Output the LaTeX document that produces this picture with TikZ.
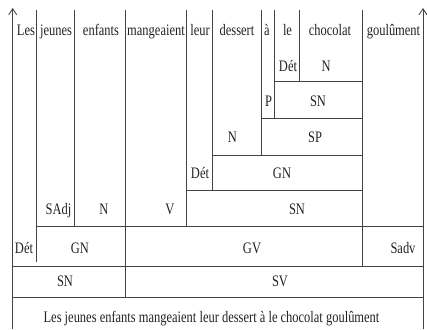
\documentclass[tikz,border=0pt]{standalone}
\usepackage{fontspec}
\setmainfont{Liberation Serif}[FakeStretch=0.78]
\usetikzlibrary{arrows.meta}
\definecolor{ink}{HTML}{222222}
\tikzset{
  lbl/.style={anchor=base, inner sep=0pt, text=ink},
  ln/.style={draw=ink!85, line width=0.85pt},
  arr/.style={ln, -{Straight Barb[length=6pt,width=8pt]}}
}
\begin{document}
\begin{tikzpicture}[x=1pt, y=-1pt, font=\fontsize{16}{18}\selectfont]
\useasboundingbox (0,0) rectangle (427,329);
% border arrows
\draw[arr] (12.7,329) -- (12.7,8);
\draw[arr] (423,329) -- (423,8);
% verticals
\draw[ln] (36.7,10) -- (36.7,262);
\draw[ln] (74,10) -- (74,226.7);
\draw[ln] (125,10) -- (125,297);
\draw[ln] (186.7,10) -- (186.7,226.7);
\draw[ln] (212,10) -- (212,190);
\draw[ln] (261.7,10) -- (261.7,155);
\draw[ln] (274.3,10) -- (274.3,118.3);
\draw[ln] (299.3,10) -- (299.3,81.7);
\draw[ln] (362.3,10) -- (362.3,266);
% horizontals
\draw[ln] (274.3,81.7) -- (362.3,81.7);
\draw[ln] (261.7,118.3) -- (362.3,118.3);
\draw[ln] (212,155) -- (362.3,155);
\draw[ln] (186.7,190) -- (362.3,190);
\draw[ln] (36.7,226.7) -- (423,226.7);
\draw[ln] (12.7,266) -- (423,266);
\draw[ln] (12.7,297) -- (423,297);
% row 1: words
\node[lbl] (w1) at (26,36) {Les};
\node[lbl] (w2) at (56,36) {jeunes};
\node[lbl] (w3) at (101,36) {enfants};
\node[lbl] (w4) at (156,36) {mangeaient};
\node[lbl] (w5) at (200,36) {leur};
\node[lbl] (w6) at (237,36) {dessert};
\node[lbl] (w7) at (267,36) {à};
\node[lbl] (w8) at (287.5,36) {le};
\node[lbl] (w9) at (330,36) {chocolat};
\node[lbl] (w10) at (393.5,36) {goulûment};
% row 2
\node[lbl] (d1) at (288,71) {Dét};
\node[lbl] (n1) at (326,71) {N};
% row 3
\node[lbl] (p1) at (268.5,106.5) {P};
\node[lbl] (sn1) at (318,106.5) {SN};
% row 4
\node[lbl] (n2) at (232.5,142) {N};
\node[lbl] (sp1) at (315,142) {SP};
% row 5
\node[lbl] (d2) at (200,178) {Dét};
\node[lbl] (gn1) at (282,178) {GN};
% row 6
\node[lbl] (sadj) at (58.5,214) {SAdj};
\node[lbl] (n3) at (104,214) {N};
\node[lbl] (v1) at (170,214) {V};
\node[lbl] (sn2) at (297,214) {SN};
% row 7
\node[lbl] (d3) at (24,253) {Dét};
\node[lbl] (gn2) at (80,253) {GN};
\node[lbl] (gv1) at (252,253) {GV};
\node[lbl] (sadv) at (403,253) {Sadv};
% row 8
\node[lbl] (sn3) at (65,286) {SN};
\node[lbl] (sv1) at (280,286) {SV};
% row 9
\node[lbl] (sent) at (211.5,322.5) {Les jeunes enfants mangeaient leur dessert à le chocolat goulûment};
\end{tikzpicture}
\end{document}
